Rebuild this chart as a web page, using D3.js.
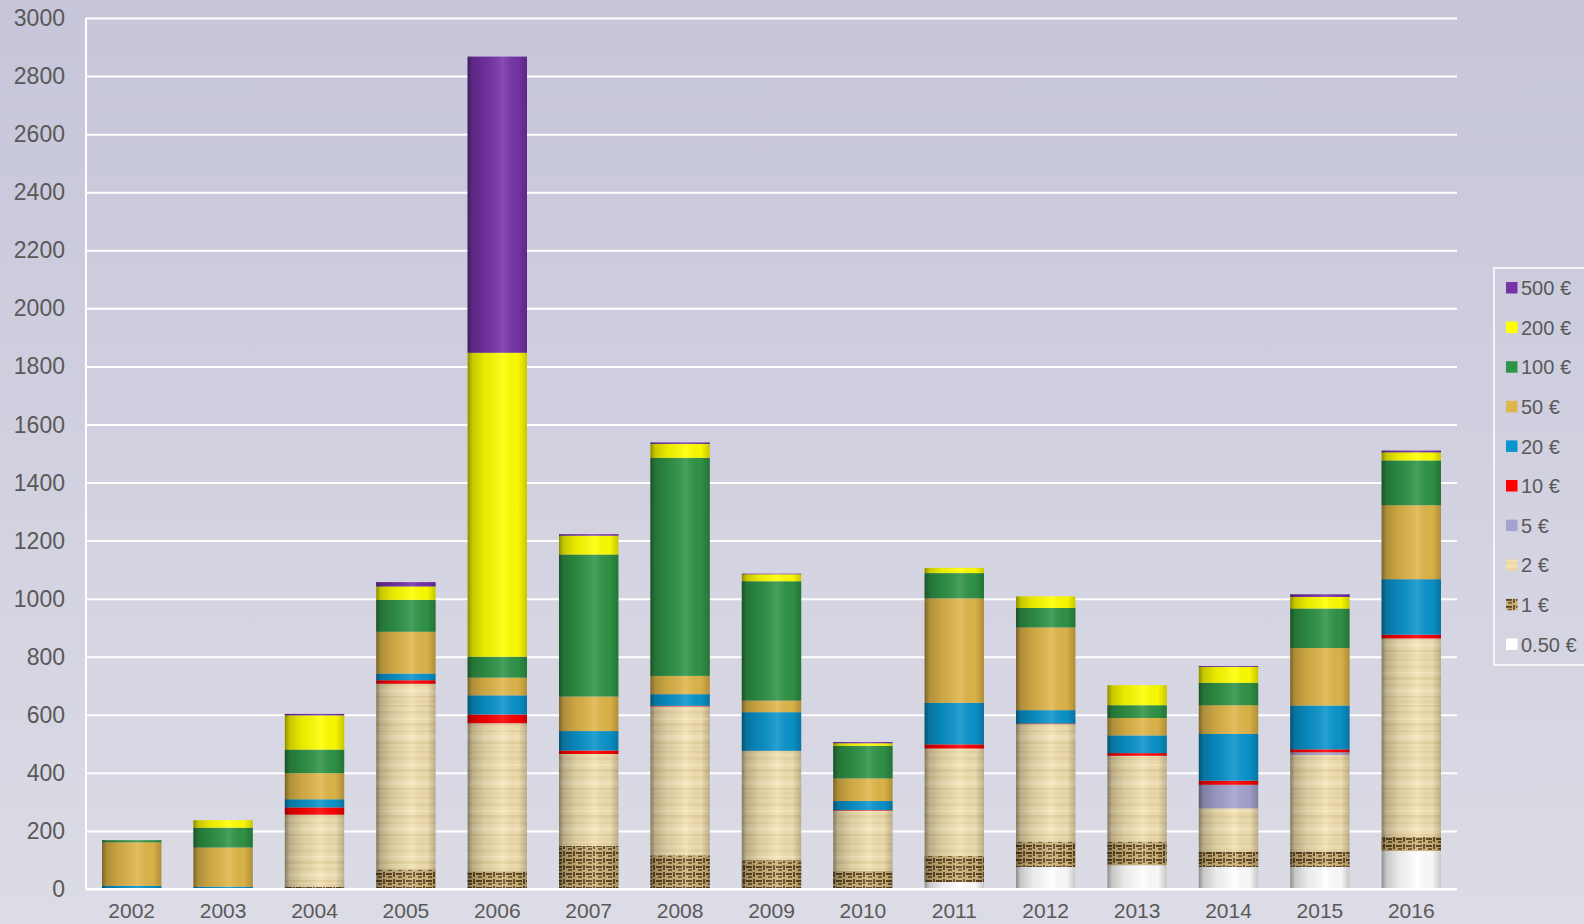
<!DOCTYPE html>
<html>
<head>
<meta charset="utf-8">
<script src="https://cdn.jsdelivr.net/npm/d3@7"></script>
<style>
  body { margin: 0; overflow: hidden; }
  svg { display: block; }
</style>
</head>
<body>
<div id="chart-container"></div>
<script>
// values per year
const years = ["2002","2003","2004","2005","2006","2007","2008","2009","2010","2011","2012","2013","2014","2015","2016"];
const denominations = ["0.50 €","1 €","2 €","5 €","10 €","20 €","50 €","100 €","200 €","500 €"];

const euro050 = [0, 0, 0, 0, 0, 0, 0, 0, 0, 24, 76, 82, 76, 76, 131];
const euro1   = [0, 0, 8, 67, 61, 148, 116, 99, 62, 90, 87, 81, 52, 52, 49];
const euro2   = [0, 0, 248, 640, 510, 317, 513, 377, 208, 370, 405, 296, 150, 334, 683];
const euro5   = [0, 0, 0, 0, 0, 0, 0, 0, 0, 0, 0, 0, 81, 9, 0];
const euro10  = [0, 0, 25, 12, 30, 12, 2, 0, 2, 14, 2, 9, 14, 10, 13];
const euro20  = [11, 8, 28, 23, 66, 67, 40, 133, 31, 143, 46, 61, 161, 151, 191];
const euro50  = [150, 135, 90, 144, 61, 119, 63, 40, 78, 360, 285, 60, 99, 198, 255];
const euro100 = [7, 68, 81, 110, 72, 489, 751, 411, 112, 87, 67, 44, 77, 136, 154];
const euro200 = [0, 26, 118, 46, 1047, 65, 48, 24, 9, 18, 40, 69, 55, 40, 28];
const euro500 = [0, 0, 5, 15, 1020, 5, 5, 2, 4, 0, 0, 0, 3, 9, 6];

const yTicks = [0, 200, 400, 600, 800, 1000, 1200, 1400, 1600, 1800, 2000, 2200, 2400, 2600, 2800, 3000];

const seriesValues = [euro050, euro1, euro2, euro5, euro10, euro20, euro50, euro100, euro200, euro500];
const seriesFills = ["#ffffff", "url(#tex1)", "url(#tex2)", "#a3a3cf", "#ff0000", "#0a94cc", "#e0b64a", "#2f9447", "#ffff00", "#7733a8"];

const width = 1584, height = 924;
const margin = { top: 18, right: 127, bottom: 35, left: 86 };
const chartWidth = width - margin.left - margin.right;
const chartHeight = height - margin.top - margin.bottom;

const svg = d3.select("#chart-container")
    .append("svg")
    .attr("width", width)
    .attr("height", height);

const defs = svg.append("defs");

// page background
const bg = defs.append("linearGradient").attr("id", "bg")
    .attr("x1", 0).attr("y1", 0).attr("x2", 0).attr("y2", 1);
bg.append("stop").attr("offset", "0%").attr("stop-color", "#c6c5da");
bg.append("stop").attr("offset", "100%").attr("stop-color", "#dcdce6");

// cylinder shading laid over each bar
const shade = defs.append("linearGradient").attr("id", "shade")
    .attr("x1", 0).attr("y1", 0).attr("x2", 1).attr("y2", 0);
[[0, "#000", 0.45], [0.08, "#000", 0.22], [0.3, "#000", 0.08], [0.6, "#fff", 0.12],
 [0.85, "#000", 0.03], [1, "#000", 0.22]].forEach(s => {
    shade.append("stop").attr("offset", s[0]).attr("stop-color", s[1]).attr("stop-opacity", s[2]);
});

// 2 € texture: beige with soft horizontal streaks
const tex2 = defs.append("pattern").attr("id", "tex2")
    .attr("patternUnits", "userSpaceOnUse").attr("width", 60).attr("height", 46);
tex2.append("rect").attr("width", 60).attr("height", 46).attr("fill", "#f2e0b0");
[[3, 3, "#dcc694", 0.35], [10, 2, "#fbeec8", 0.6], [15, 3, "#d6bf88", 0.3], [22, 2, "#e2cd9c", 0.4],
 [27, 4, "#fcf0cc", 0.5], [34, 2, "#d2b982", 0.3], [38, 3, "#e6d3a4", 0.4], [43, 2, "#dac391", 0.35]]
    .forEach(s => {
        tex2.append("rect").attr("x", 0).attr("y", s[0]).attr("width", 60).attr("height", s[1])
            .attr("fill", s[2]).attr("opacity", s[3]);
    });

// 1 € texture: darker woven look
const tex1 = defs.append("pattern").attr("id", "tex1")
    .attr("patternUnits", "userSpaceOnUse").attr("width", 10).attr("height", 7);
tex1.append("rect").attr("width", 10).attr("height", 7).attr("fill", "#cdb47c");
tex1.append("rect").attr("x", 0).attr("y", 1).attr("width", 6).attr("height", 2).attr("fill", "#5e4522");
tex1.append("rect").attr("x", 7).attr("y", 0).attr("width", 2).attr("height", 5).attr("fill", "#6b5028");
tex1.append("rect").attr("x", 2).attr("y", 4).attr("width", 4).attr("height", 2).attr("fill", "#7a5e30");

svg.append("rect").attr("width", width).attr("height", height).attr("fill", "url(#bg)");

const g = svg.append("g").attr("transform", `translate(${margin.left},${margin.top})`);

const xScale = d3.scaleBand()
    .domain(years)
    .range([0, chartWidth])
    .paddingInner(0.35)
    .paddingOuter(0.175);

const yScale = d3.scaleLinear()
    .domain([0, 3000])
    .range([chartHeight, 0]);

// gridlines
g.append("g")
    .call(d3.axisLeft(yScale).tickValues(yTicks).tickSize(-chartWidth).tickFormat(""))
    .call(a => a.select(".domain").remove())
    .selectAll("line")
    .attr("stroke", "#ffffff")
    .attr("stroke-width", 2);

// axis lines
g.append("line").attr("x1", 0).attr("x2", 0).attr("y1", 0).attr("y2", chartHeight)
    .attr("stroke", "#ffffff").attr("stroke-width", 2);

// build stack table
const table = years.map((y, i) => {
    const row = { year: y };
    denominations.forEach((d, k) => { row[d] = seriesValues[k][i]; });
    return row;
});
const stacked = d3.stack().keys(denominations)(table);

const layers = g.selectAll(".layer")
    .data(stacked)
    .enter()
    .append("g")
    .attr("class", "layer")
    .attr("fill", (d, k) => seriesFills[k]);

layers.selectAll("rect")
    .data(d => d.filter(p => p[1] > p[0]))
    .enter()
    .append("rect")
    .attr("x", d => xScale(d.data.year))
    .attr("y", d => yScale(d[1]))
    .attr("width", xScale.bandwidth())
    .attr("height", d => yScale(d[0]) - yScale(d[1]));

// shading over each whole column
const totals = years.map((y, i) => d3.sum(seriesValues, s => s[i]));
g.selectAll(".shade")
    .data(years)
    .enter()
    .append("rect")
    .attr("class", "shade")
    .attr("x", d => xScale(d))
    .attr("y", (d, i) => yScale(totals[i]))
    .attr("width", xScale.bandwidth())
    .attr("height", (d, i) => chartHeight - yScale(totals[i]))
    .attr("fill", "url(#shade)");

g.append("line").attr("x1", 0).attr("x2", chartWidth).attr("y1", chartHeight).attr("y2", chartHeight)
    .attr("stroke", "#ffffff").attr("stroke-width", 2);

// Y axis labels
g.selectAll(".ylabel")
    .data(yTicks)
    .enter()
    .append("text")
    .attr("x", -21)
    .attr("y", d => yScale(d))
    .attr("dy", "0.35em")
    .attr("text-anchor", "end")
    .style("font-family", "'Liberation Sans', Arial, sans-serif")
    .style("font-size", "23px")
    .attr("fill", "#595959")
    .text(d => d);

// X axis labels
g.selectAll(".xlabel")
    .data(years)
    .enter()
    .append("text")
    .attr("x", d => xScale(d) + xScale.bandwidth() / 2)
    .attr("y", chartHeight + 29)
    .attr("text-anchor", "middle")
    .style("font-family", "'Liberation Sans', Arial, sans-serif")
    .style("font-size", "21px")
    .attr("fill", "#595959")
    .text(d => d);

// Legend
const legend = svg.append("g").attr("transform", "translate(1494,268)");
legend.append("rect")
    .attr("width", 100).attr("height", 397)
    .attr("fill", "none").attr("stroke", "#ffffff").attr("stroke-width", 1.5);

const legendOrder = denominations.map((d, k) => k).reverse();
const item = legend.selectAll(".item")
    .data(legendOrder)
    .enter()
    .append("g")
    .attr("transform", (k, i) => `translate(12,${20 + i * 39.6})`);

item.append("rect")
    .attr("y", -6).attr("width", 11.5).attr("height", 11.5)
    .attr("fill", k => seriesFills[k]);

item.append("text")
    .attr("x", 15)
    .attr("dy", "0.36em")
    .style("font-family", "'Liberation Sans', Arial, sans-serif")
    .style("font-size", "20px")
    .attr("fill", "#595959")
    .text(k => denominations[k]);
</script>
</body>
</html>
